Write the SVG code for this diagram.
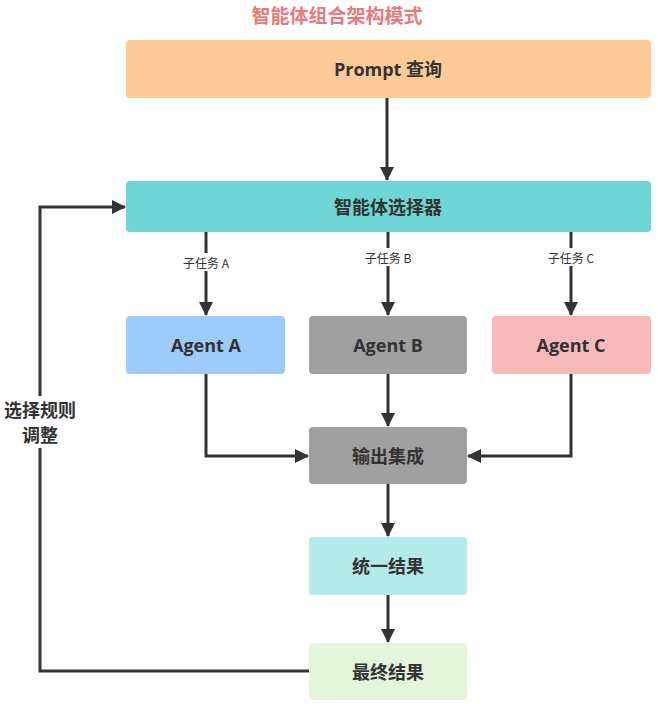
<svg xmlns="http://www.w3.org/2000/svg" width="658" height="704" viewBox="0 0 658 704">
<defs>
<marker id="arr" viewBox="0 0 14 14" refX="13" refY="7" markerWidth="14" markerHeight="14" markerUnits="userSpaceOnUse" orient="auto">
<path d="M0,0 L14,7 L0,14 Z" fill="#333333"/>
</marker>
</defs>
<style>
.node{stroke:none}
.t{font-family:"Open Sans","Noto Sans CJK SC",sans-serif;font-weight:bold;font-size:18px;fill:#333333;text-anchor:middle;dominant-baseline:central}
.lbl{font-family:"Noto Sans CJK SC",sans-serif;font-size:12px;fill:#333333;text-anchor:middle;dominant-baseline:central}
.lb{fill:#ffffff}
.c{fill:none;stroke:#333333;stroke-width:3;marker-end:url(#arr)}
</style>
<rect width="658" height="704" fill="#ffffff"/>
<text x="337" y="14" style="font-family:'Noto Sans CJK SC',sans-serif;font-weight:bold;font-size:19px;fill:#EA7A7A;text-anchor:middle;dominant-baseline:central">智能体组合架构模式</text>

<g id="connectors">
<path class="c" d="M387,98 V180"/>
<path class="c" d="M206,232 V315"/>
<path class="c" d="M388,232 V315"/>
<path class="c" d="M571,232 V315"/>
<path class="c" d="M206,374 V456 H308"/>
<path class="c" d="M388,374 V426"/>
<path class="c" d="M571,374 V456 H468"/>
<path class="c" d="M388,484 V536"/>
<path class="c" d="M388,595 V642"/>
<path class="c" d="M309,671 H40 V207 H125"/>
<rect class="lb" x="176" y="253" width="60" height="18"/>
<text class="lbl" x="206" y="262">子任务 A</text>
<rect class="lb" x="358" y="248" width="60" height="18"/>
<text class="lbl" x="388" y="257">子任务 B</text>
<rect class="lb" x="541" y="248" width="60" height="18"/>
<text class="lbl" x="571" y="257">子任务 C</text>
<rect class="lb" x="0" y="396" width="80" height="52"/>
<text class="t" x="40" y="410">选择规则</text>
<text class="t" x="40" y="435">调整</text>
</g>

<g id="prompt">
<rect class="node" x="126" y="40" width="525" height="58" rx="4" fill="#FECB98"/>
<text class="t" x="388" y="69">Prompt 查询</text>
</g>
<g id="selector">
<rect class="node" x="126" y="181" width="525" height="51" rx="4" fill="#6FD5D5"/>
<text class="t" x="388" y="207">智能体选择器</text>
</g>
<g id="agentA">
<rect class="node" x="126" y="316" width="159" height="58" rx="4" fill="#9DCBFB"/>
<text class="t" x="206" y="345">Agent A</text>
</g>
<g id="agentB">
<rect class="node" x="309" y="316" width="158" height="58" rx="4" fill="#A0A0A0"/>
<text class="t" x="388" y="345">Agent B</text>
</g>
<g id="agentC">
<rect class="node" x="492" y="316" width="159" height="58" rx="4" fill="#F6BABA"/>
<text class="t" x="571" y="345">Agent C</text>
</g>
<g id="integrate">
<rect class="node" x="309" y="427" width="158" height="57" rx="4" fill="#A0A0A0"/>
<text class="t" x="388" y="456">输出集成</text>
</g>
<g id="unified">
<rect class="node" x="309" y="537" width="158" height="58" rx="4" fill="#B5EAEA"/>
<text class="t" x="388" y="566">统一结果</text>
</g>
<g id="final">
<rect class="node" x="309" y="643" width="158" height="57" rx="4" fill="#E4F5DA"/>
<text class="t" x="388" y="672">最终结果</text>
</g>
</svg>
